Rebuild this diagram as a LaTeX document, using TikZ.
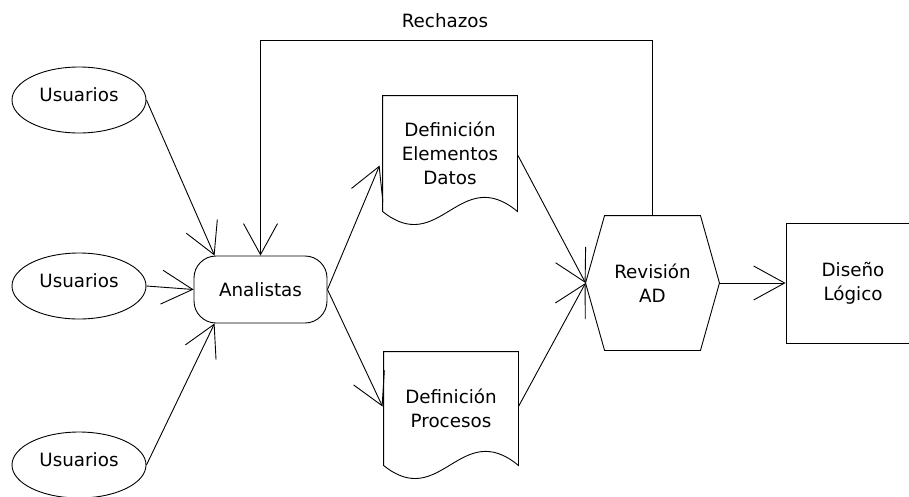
\documentclass[tikz,border=0pt]{standalone}
\usepackage{fontspec}
\setmainfont{DejaVu Sans}
\usetikzlibrary{arrows.meta,shapes.geometric,calc}
\begin{document}
\begin{tikzpicture}[x=1pt,y=-1pt,line width=0.9pt,
  every node/.style={font=\fontsize{18.3}{24}\selectfont,inner sep=0pt,align=center},
  flow/.style={draw,-{Straight Barb[length=31pt,width=34pt]}},
  usr/.style={draw,ellipse,minimum width=134pt,minimum height=66pt,text depth=11pt},
  term/.style={draw,rounded corners=22pt,minimum width=133pt,minimum height=67pt},
  docbox/.style={minimum width=134pt,minimum height=#1},
  hexbox/.style={minimum width=133pt,minimum height=134pt},
  plainbox/.style={draw,minimum width=134pt,minimum height=120pt}]
\useasboundingbox (0,0) rectangle (909,496);

% sources
\node[usr] (u1) at (79,100) {Usuarios};
\node[usr] (u2) at (79,286) {Usuarios};
\node[usr] (u3) at (79,465) {Usuarios};

% analysts
\node[term] (an) at (260.5,289.5) {Analistas};

% documents
\node[docbox=115pt] (d1) at (450,153.5) {Definición\\Elementos\\Datos};
\draw (d1.south west) .. controls ($(d1.south west)+(57,46)$) and ($(d1.south west)+(77,-48)$) .. (d1.south east)
  -- (d1.north east) -- (d1.north west) -- cycle;
\node[docbox=113pt] (d2) at (451,408.5) {Definición\\Procesos};
\draw (d2.south west) .. controls ($(d2.south west)+(57,46)$) and ($(d2.south west)+(77,-48)$) .. (d2.south east)
  -- (d2.north east) -- (d2.north west) -- cycle;

% review
\node[hexbox] (rv) at (652.5,283) {Revisión\\AD};
\draw (rv.west) -- ($(rv.north west)+(19,0)$) -- ($(rv.north east)+(-19,0)$) -- (rv.east)
  -- ($(rv.south east)+(-19,0)$) -- ($(rv.south west)+(19,0)$) -- cycle;

% logical design
\node[plainbox] (ds) at (853,283) {Diseño\\Lógico};

% rejection label
\node (rj) at (445,21) {Rechazos};

% connectors
\draw[flow] (u1.east) -- ($(an.north west)+(21,0)$);
\draw[flow] (u2.east) -- (an.west);
\draw[flow] (u3.east) -- ($(an.south west)+(21,0)$);
\draw[flow] (an.east) -- ($(d1.north west)+(-3,70)$);
\draw[flow] (an.east) -- ($(d2.north west)+(-1,55)$);
\draw[flow] ($(d1.north east)+(0,59)$) -- (rv.west);
\draw[flow] ($(d2.north east)+(0,55)$) -- (rv.west);
\draw[flow] (rv.east) -- (ds.west);
\draw[flow] (rv.north) -- ++(0,-175) -| (an.north);
\end{tikzpicture}
\end{document}
